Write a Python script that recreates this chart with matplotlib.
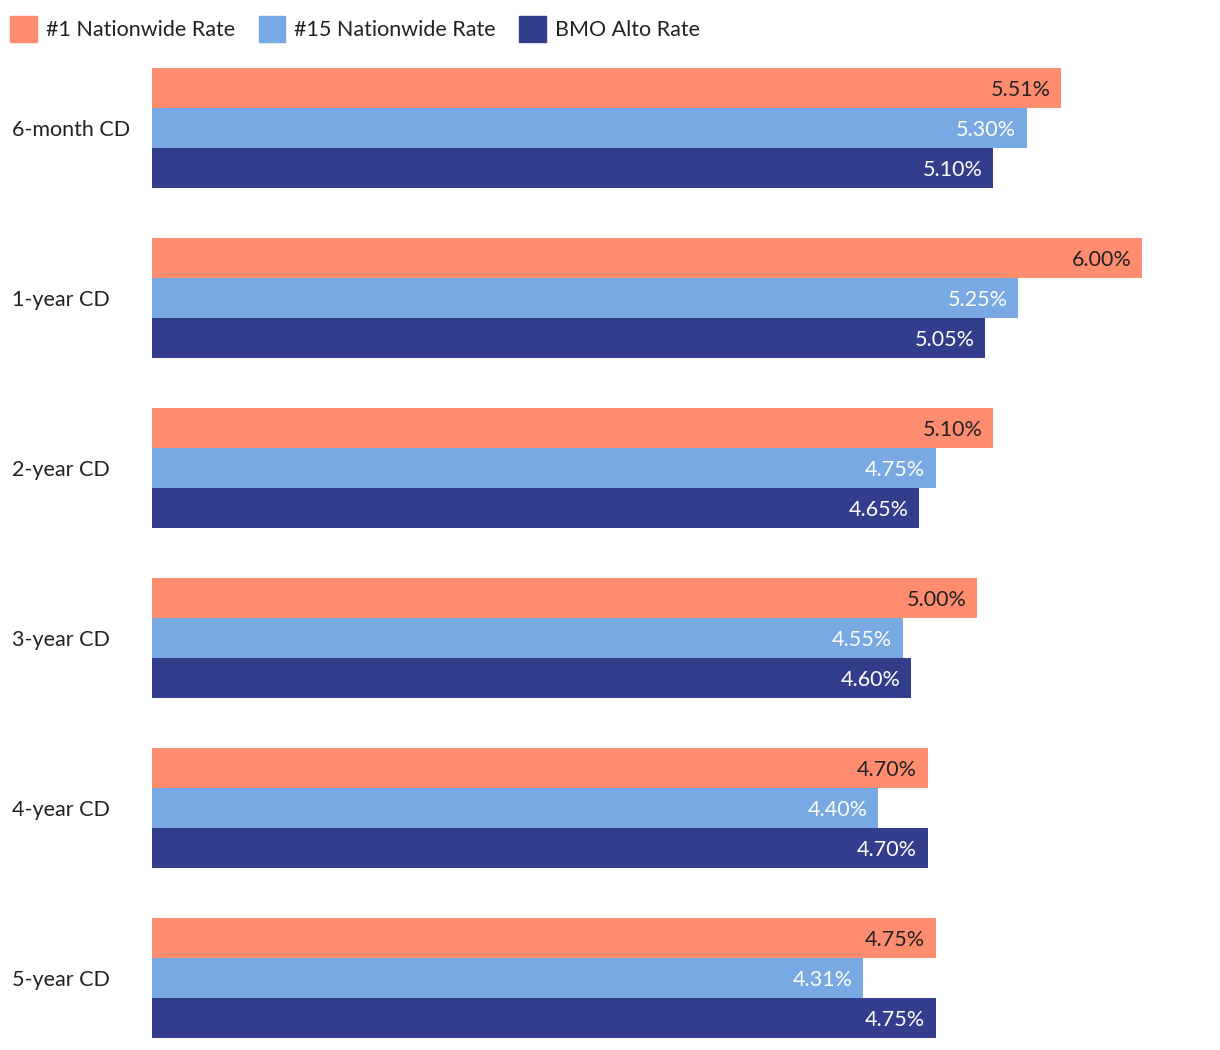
import numpy as np
import matplotlib.pyplot as plt
from matplotlib.patches import Patch

plt.rcParams['font.family'] = ['Lato', 'DejaVu Sans']

categories = ['6-month CD', '1-year CD', '2-year CD', '3-year CD', '4-year CD', '5-year CD']
series_names = ['#1 Nationwide Rate', '#15 Nationwide Rate', 'BMO Alto Rate']
top_rate = [5.51, 6.00, 5.10, 5.00, 4.70, 4.75]
rank15_rate = [5.30, 5.25, 4.75, 4.55, 4.40, 4.31]
bmo_rate = [5.10, 5.05, 4.65, 4.60, 4.70, 4.75]

colors = ['#FF8C6E', '#78A9E3', '#323E8C']
text_colors = ['#222222', 'white', 'white']

W, H = 1220, 1050
fig = plt.figure(figsize=(W / 100, H / 100), dpi=100)
ax = fig.add_axes([152 / W, 1 - 1038 / H, (W - 152) / W, (1038 - 68) / H])

bar_h = 40 / 170
y = np.arange(len(categories))
for k, vals in enumerate([top_rate, rank15_rate, bmo_rate]):
    pos = y + (k - 1) * bar_h
    ax.barh(pos, vals, height=bar_h, color=colors[k], label=series_names[k])
    for p, v in zip(pos, vals):
        # nudge a touch down so the digits sit centred like the original
        ax.text(v - 0.065, p + 0.012, f'{v:.2f}%', ha='right', va='center',
                color=text_colors[k], fontsize=15.5)

ax.set_xlim(0, (W - 152) / 165)
ax.set_ylim(len(categories) - 1 + 60 / 170, -60 / 170)
ax.set_yticks(y)
ax.set_yticklabels(categories, fontsize=15.5, color='#222222', ha='left')
ax.tick_params(axis='y', length=0, pad=140 * 0.72)
ax.set_xticks([])
for s in ax.spines.values():
    s.set_visible(False)

handles = [Patch(color=c) for c in colors]
fig.legend(handles, series_names, loc='upper left', bbox_to_anchor=(-0.0075, 1.003),
           ncol=3, frameon=False, fontsize=15.5, handlelength=1.25, handleheight=1.45,
           handletextpad=0.4, columnspacing=1.1, borderaxespad=0.5,
           labelcolor='#222222')

fig.savefig('out.png', dpi=100)
